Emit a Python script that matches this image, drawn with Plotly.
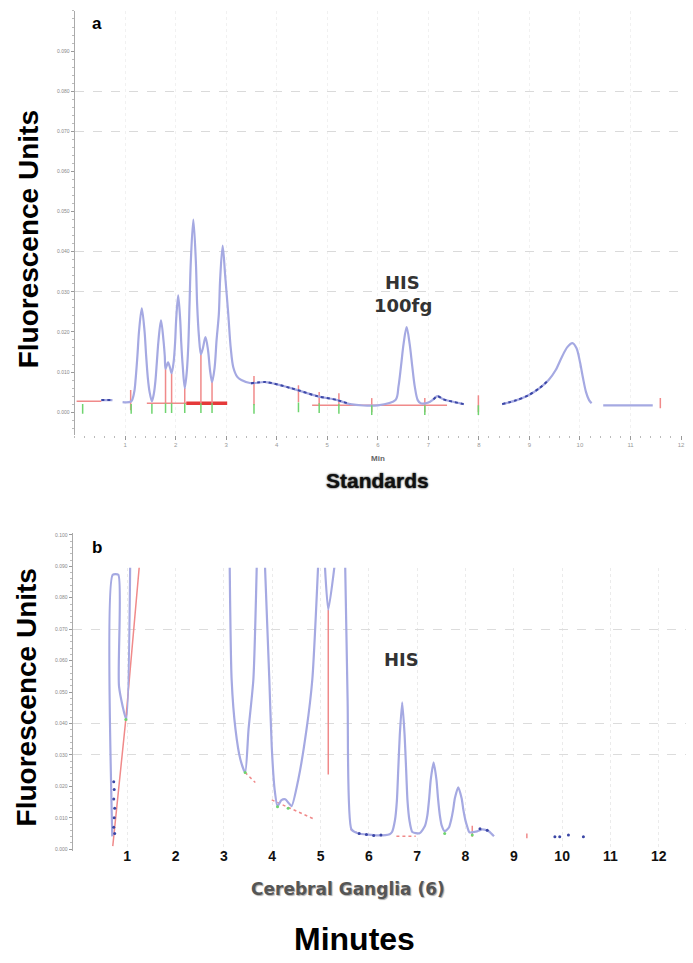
import plotly.graph_objects as go

W, H = 693, 963
def fx(px): return px / W
def fy(py): return 1 - py / H

# ---------------- Panel a (Standards) ----------------
a_t = [0.53, 0.75, None, 0.95, 1.12,
       1.18, 1.21, 1.245, 1.275, 1.33, 1.385, 1.415, 1.45, 1.485, 1.53,
       1.57, 1.60, 1.63, 1.66, 1.71, 1.76, 1.785, 1.80, 1.85, 1.89, 1.92,
       1.96, 1.99, 2.01, 2.05, 2.09, 2.11, 2.14, 2.18,
       2.22, 2.25, 2.275, 2.30, 2.35, 2.40, 2.425, 2.46, 2.50,
       2.54, 2.59, 2.64, 2.68, 2.72,
       2.77, 2.81, 2.855, 2.88, 2.93, 2.98, 3.04, 3.09, 3.14, 3.22, 3.30,
       3.49, 3.78, 4.28, 4.80, 5.20, 5.45, 6.00,
       6.35, 6.41, 6.46, 6.51, 6.57, 6.63, 6.68, 6.73, 6.79, 6.85,
       7.00, 7.10, 7.18, 7.30, 7.70, None,
       8.46, 8.75, 8.98, 9.20, 9.38, 9.52, 9.64, 9.75, 9.85, 9.93, 10.00, 10.06, 10.12, 10.18, 10.23, None,
       10.46, 11.44]
a_v = [0.0030, 0.0030, None, 0.0025, 0.0027,
       0.0050, 0.0085, 0.0143, 0.0201, 0.0259, 0.0201, 0.0143, 0.0085, 0.0050, 0.0027,
       0.0047, 0.0078, 0.0128, 0.0178, 0.0229, 0.0178, 0.0140, 0.0108, 0.0124, 0.0110, 0.0097,
       0.0125, 0.0175, 0.0230, 0.0291, 0.0230, 0.0175, 0.0115, 0.0060,
       0.0100, 0.0165, 0.0270, 0.0375, 0.0480, 0.0375, 0.0270, 0.0190, 0.0144,
       0.0160, 0.0187, 0.0155, 0.0105, 0.0075,
       0.0110, 0.0180, 0.0245, 0.0330, 0.0415, 0.0340, 0.0246, 0.0160, 0.0112, 0.0088, 0.0080,
       0.0072, 0.0075, 0.0060, 0.0040, 0.0030, 0.0020, 0.0017,
       0.0030, 0.0065, 0.0116, 0.0170, 0.0212, 0.0170, 0.0116, 0.0065, 0.0030, 0.0022,
       0.0024, 0.0032, 0.0040, 0.0032, 0.0020, None,
       0.0020, 0.0030, 0.0042, 0.0060, 0.0080, 0.0105, 0.0137, 0.0162, 0.0172, 0.0160, 0.0125, 0.0085, 0.0050, 0.0030, 0.0022, None,
       0.0017, 0.0017]

# darker dotted stretches of the trace
a_dark_t = [0.53, 0.75, None, 3.49, 3.78, 4.28, 4.80, 5.20, 5.45, None, 7.10, 7.18, 7.30, 7.70, None, 8.46, 8.75, 8.98, 9.20, 9.38]
a_dark_v = [0.0030, 0.0030, None, 0.0072, 0.0075, 0.0060, 0.0040, 0.0030, 0.0020, None, 0.0032, 0.0040, 0.0032, 0.0020, None, 0.0020, 0.0030, 0.0042, 0.0060, 0.0080]

# integration baselines (red)
a_base_thin_t = [0.04, 0.53, None, 1.43, 2.21, None, 4.70, 7.37]
a_base_thin_v = [0.0027, 0.0027, None, 0.0022, 0.0022, None, 0.0017, 0.0017]
a_base_thick_t = [2.21, 3.02]
a_base_thick_v = [0.0022, 0.0022]

# peak drop lines (red verticals): time, top value, bottom value
a_drop_t = [1.80, 1.92, 2.18, 2.50, 2.72]
a_drop_top = [0.0108, 0.0097, 0.0060, 0.0144, 0.0075]
a_drop_bot = [0.0022, 0.0022, 0.0022, 0.0022, 0.0022]

# event ticks (red)
a_tick_t = [1.11, 3.55, 4.43, 4.84, 5.23, 5.88, 6.93, 7.99, 11.59]
a_tick_top = [0.0055, 0.0090, 0.0067, 0.0050, 0.0047, 0.0035, 0.0035, 0.0042, 0.0035]
a_tick_bot = [0.0005, 0.0017, 0.0025, 0.0020, 0.0020, 0.0000, 0.0000, 0.0000, 0.0010]

# green markers
a_green_t = [0.16, 1.12, 1.53, 1.80, 1.92, 2.18, 2.50, 2.72, 3.55, 4.43, 4.84, 5.23, 5.88, 6.93, 7.99]
a_green_v = [0.0008, 0.0008, 0.0008, 0.0010, 0.0010, 0.0010, 0.0010, 0.0010, 0.0008, 0.0012, 0.0010, 0.0008, 0.0005, 0.0005, 0.0005]

# ---------------- Panel b (Cerebral Ganglia) ----------------
b_t = [0.69, 0.70, 0.815, 0.83, 0.98, 1.06, None,
       3.12, 3.16, 3.24, 3.34, 3.44, 3.51, 3.61, 3.68, None,
       3.85, 3.94, 3.99, 4.05, 4.11, 4.19, 4.27, 4.33, 4.40, 4.54, 4.71, 4.83, 4.95, None,
       5.09, 5.16, 5.29, None,
       5.51, 5.56, 5.64, 5.77, 6.19, 6.43,
       6.48, 6.54, 6.58, 6.61, 6.64, 6.69, 6.74, 6.77, 6.80, 6.84, 6.90,
       7.05, 7.16, 7.21, 7.25, 7.28, 7.34, 7.40, 7.43, 7.47, 7.51, 7.57,
       7.66, 7.70, 7.745, 7.78, 7.85, 7.92, 7.955, 8.00, 8.04, 8.08,
       8.24, 8.35, 8.48, 8.59]
b_v = [0.0041, 0.0873, 0.0873, 0.0517, 0.0413, 0.0902, None,
       0.0902, 0.0540, 0.0381, 0.0286, 0.0244, 0.0381, 0.0540, 0.0902, None,
       0.0902, 0.0540, 0.0327, 0.0190, 0.0137, 0.0156, 0.0159, 0.0149, 0.0137, 0.0222, 0.0381, 0.0540, 0.0902, None,
       0.0902, 0.0762, 0.0902, None,
       0.0902, 0.0476, 0.0063, 0.0051, 0.0044, 0.0048,
       0.0055, 0.0092, 0.0154, 0.0259, 0.0363, 0.0467, 0.0363, 0.0259, 0.0154, 0.0092, 0.0055,
       0.0051, 0.0074, 0.0107, 0.0164, 0.0220, 0.0276, 0.0220, 0.0164, 0.0107, 0.0074, 0.0057,
       0.0070, 0.0091, 0.0126, 0.0162, 0.0197, 0.0162, 0.0126, 0.0091, 0.0070, 0.0054,
       0.0057, 0.0063, 0.0057, 0.0041]

b_dot_t = [0.72, 0.73, 0.72, 0.74, 0.73, 0.72, 0.74, 5.80, 5.95, 6.10, 6.25, 8.30, 8.45, 9.85, 9.95, 10.13, 10.44]
b_dot_v = [0.0215, 0.0190, 0.0160, 0.0130, 0.0100, 0.0070, 0.0050, 0.0050, 0.0047, 0.0044, 0.0045, 0.0065, 0.0060, 0.0040, 0.0040, 0.0045, 0.0040]

b_base_t = [0.70, 0.97, 1.25]
b_base_v = [0.0010, 0.0413, 0.0902]
b_dash_t = [3.44, 3.65, None, 3.99, 4.88, None, 5.62, 5.76, None, 6.57, 6.97]
b_dash_v = [0.0244, 0.0212, None, 0.0157, 0.0095, None, 0.0063, 0.0052, None, 0.0041, 0.0041]
b_drop_t = [5.16, 8.14, 9.27]
b_drop_top = [0.0762, 0.0075, 0.0050]
b_drop_bot = [0.0238, 0.0040, 0.0035]
b_green_t = [0.97, 3.44, 4.11, 4.33, 7.57, 8.14]
b_green_v = [0.0413, 0.0244, 0.0135, 0.0130, 0.0050, 0.0045]

minute_ticks = list(range(1, 13))
a_y_ticks = [0.0, 0.01, 0.02, 0.03, 0.04, 0.05, 0.06, 0.07, 0.08, 0.09]
a_grid_vals = [0.03, 0.04, 0.07, 0.08]
b_y_ticks = [0.0, 0.01, 0.02, 0.03, 0.04, 0.05, 0.06, 0.07, 0.08, 0.09, 0.10]
b_grid_vals = [0.03, 0.04, 0.07]

LINE = '#a5a9e2'
DARK = '#3b47a6'
RED = '#f08a8a'
RED2 = '#e53a3a'
GREEN = '#6fd46f'

def segs(t, top, bot):
    xs, ys = [], []
    for a, b, c in zip(t, top, bot):
        xs += [a, a, None]; ys += [b, c, None]
    return xs, ys

fig = go.Figure()
# panel a
ax_, ay_ = segs(a_tick_t, a_tick_top, a_tick_bot)
fig.add_trace(go.Scatter(x=ax_, y=ay_, mode='lines', line=dict(color=RED, width=1.5), xaxis='x', yaxis='y'))
fig.add_trace(go.Scatter(x=a_base_thin_t, y=a_base_thin_v, mode='lines', line=dict(color=RED, width=1.5), xaxis='x', yaxis='y'))
fig.add_trace(go.Scatter(x=a_base_thick_t, y=a_base_thick_v, mode='lines', line=dict(color=RED2, width=3.5), xaxis='x', yaxis='y'))
dx_, dy_ = segs(a_drop_t, a_drop_top, a_drop_bot)
fig.add_trace(go.Scatter(x=dx_, y=dy_, mode='lines', line=dict(color=RED, width=1.5), xaxis='x', yaxis='y'))
fig.add_trace(go.Scatter(x=a_t, y=a_v, mode='lines', line=dict(color=LINE, width=2.2, shape='spline', smoothing=0.9),
                         connectgaps=False, xaxis='x', yaxis='y'))
fig.add_trace(go.Scatter(x=a_dark_t, y=a_dark_v, mode='lines', line=dict(color=DARK, width=2, dash='dot', shape='spline', smoothing=0.8),
                         connectgaps=False, xaxis='x', yaxis='y'))
fig.add_trace(go.Scatter(x=a_green_t, y=a_green_v, mode='markers', marker=dict(symbol='line-ns', size=7, line=dict(color=GREEN, width=1.5)),
                         xaxis='x', yaxis='y'))
fig.add_trace(go.Scatter(x=[None], y=[None], xaxis='x', yaxis='y3'))
# panel b
fig.add_trace(go.Scatter(x=b_base_t, y=b_base_v, mode='lines', line=dict(color=RED, width=1.5), xaxis='x2', yaxis='y2'))
fig.add_trace(go.Scatter(x=b_dash_t, y=b_dash_v, mode='lines', line=dict(color=RED, width=1.5, dash='dot'), xaxis='x2', yaxis='y2'))
bx_, by_ = segs(b_drop_t, b_drop_top, b_drop_bot)
fig.add_trace(go.Scatter(x=bx_, y=by_, mode='lines', line=dict(color=RED, width=1.5), xaxis='x2', yaxis='y2'))
fig.add_trace(go.Scatter(x=b_t, y=b_v, mode='lines', line=dict(color=LINE, width=2.2, shape='spline', smoothing=0.6),
                         connectgaps=False, xaxis='x2', yaxis='y2'))
fig.add_trace(go.Scatter(x=b_dot_t, y=b_dot_v, mode='markers', marker=dict(color=DARK, size=3), xaxis='x2', yaxis='y2'))
fig.add_trace(go.Scatter(x=b_green_t, y=b_green_v, mode='markers', marker=dict(color=GREEN, size=3), xaxis='x2', yaxis='y2'))
fig.add_trace(go.Scatter(x=[None], y=[None], xaxis='x3', yaxis='y4'))

tickfont_small = dict(family='Liberation Sans', size=5, color='#888')

fig.update_layout(
    width=W, height=H, autosize=False, showlegend=False,
    margin=dict(l=0, r=0, t=0, b=0),
    paper_bgcolor='white', plot_bgcolor='rgba(0,0,0,0)',
    xaxis=dict(domain=[fx(75), fx(685)], range=[0, 12], anchor='y', tickvals=minute_ticks,
               ticks='outside', ticklen=4, tickcolor='#999', tickfont=dict(family='Liberation Sans', size=6, color='#999'),
               minor=dict(dtick=0.2, ticks='outside', ticklen=2, tickcolor='#bbb'),
               showline=False, zeroline=False, showgrid=True, gridcolor='#f1f1f1', griddash='dot'),
    yaxis=dict(domain=[fy(435), fy(10)], range=[-0.00572, 0.1], anchor='x', tickvals=a_y_ticks, tickformat='.3f',
               ticks='outside', ticklen=3, tickcolor='#999', tickfont=tickfont_small,
               minor=dict(dtick=0.002, ticks='outside', ticklen=2, tickcolor='#bbb'),
               showline=True, linecolor='#aaa', linewidth=1, zeroline=False, showgrid=False),
    yaxis3=dict(overlaying='y', range=[-0.00572, 0.1], anchor='x', tickvals=a_grid_vals, showticklabels=False, ticks='',
                showgrid=True, gridcolor='#dadada', griddash='dash', zeroline=False, showline=False),
    xaxis2=dict(domain=[fx(73), fx(690)], range=[-0.1317, 12.564], anchor='y2', tickvals=minute_ticks, ticks='',
                tickfont=dict(family='Liberation Sans', size=14, color='#111', weight='bold'), ticklabelstandoff=-5,
                showline=False, zeroline=False, showgrid=True, gridcolor='#ebebeb', griddash='dot'),
    yaxis2=dict(domain=[fy(852), fy(568)], range=[-0.000635, 0.08952], anchor='x2', tickvals=b_grid_vals,
                showticklabels=False, ticks='', showgrid=True, gridcolor='#dcdcdc', griddash='dash', zeroline=False, showline=False),
    xaxis3=dict(domain=[fx(73), fx(690)], range=[-0.1317, 12.564], anchor='y4', visible=False),
    yaxis4=dict(domain=[fy(852), fy(533)], range=[-0.000635, 0.10063], anchor='x3', tickvals=b_y_ticks, tickformat='.3f',
                ticks='outside', ticklen=3, tickcolor='#999', tickfont=tickfont_small,
                minor=dict(dtick=0.002, ticks='outside', ticklen=2, tickcolor='#bbb'),
                showline=True, linecolor='#aaa', linewidth=1, zeroline=False, showgrid=False),
)

def ann(text, px, py, size, family='Liberation Sans', color='#000', weight='bold', angle=0, shadow=None):
    f = dict(family=family, size=size, color=color, weight=weight)
    if shadow:
        f['shadow'] = shadow
    fig.add_annotation(text=text, x=fx(px), y=fy(py), xref='paper', yref='paper', showarrow=False,
                       xanchor='center', yanchor='middle', textangle=angle, font=f)

ann('a', 98, 23, 17)
ann('b', 98, 548, 17)
ann('HIS', 405, 282, 18, family='DejaVu Sans', color='#333')
ann('100fg', 405, 305, 18, family='DejaVu Sans', color='#333')
ann('HIS', 404, 660, 18, family='DejaVu Sans', color='#333')
ann('Fluorescence Units', 29, 239, 28, angle=-90)
ann('Fluorescence Units', 27, 698, 28, angle=-90)
ann('Min', 380, 458, 8, color='#666')
ann('Standards', 380, 480, 21, color='#111', shadow='0px 0px 2px #000')
ann('Cerebral Ganglia (6)', 350, 890, 17, family='DejaVu Sans', color='#555', shadow='1px 1px 1px #aaa')
ann('Minutes', 357, 940, 32)

fig.write_html('out.html', config={'displayModeBar': False},
               post_script="document.body.style.margin='0';document.body.style.overflow='hidden';")
